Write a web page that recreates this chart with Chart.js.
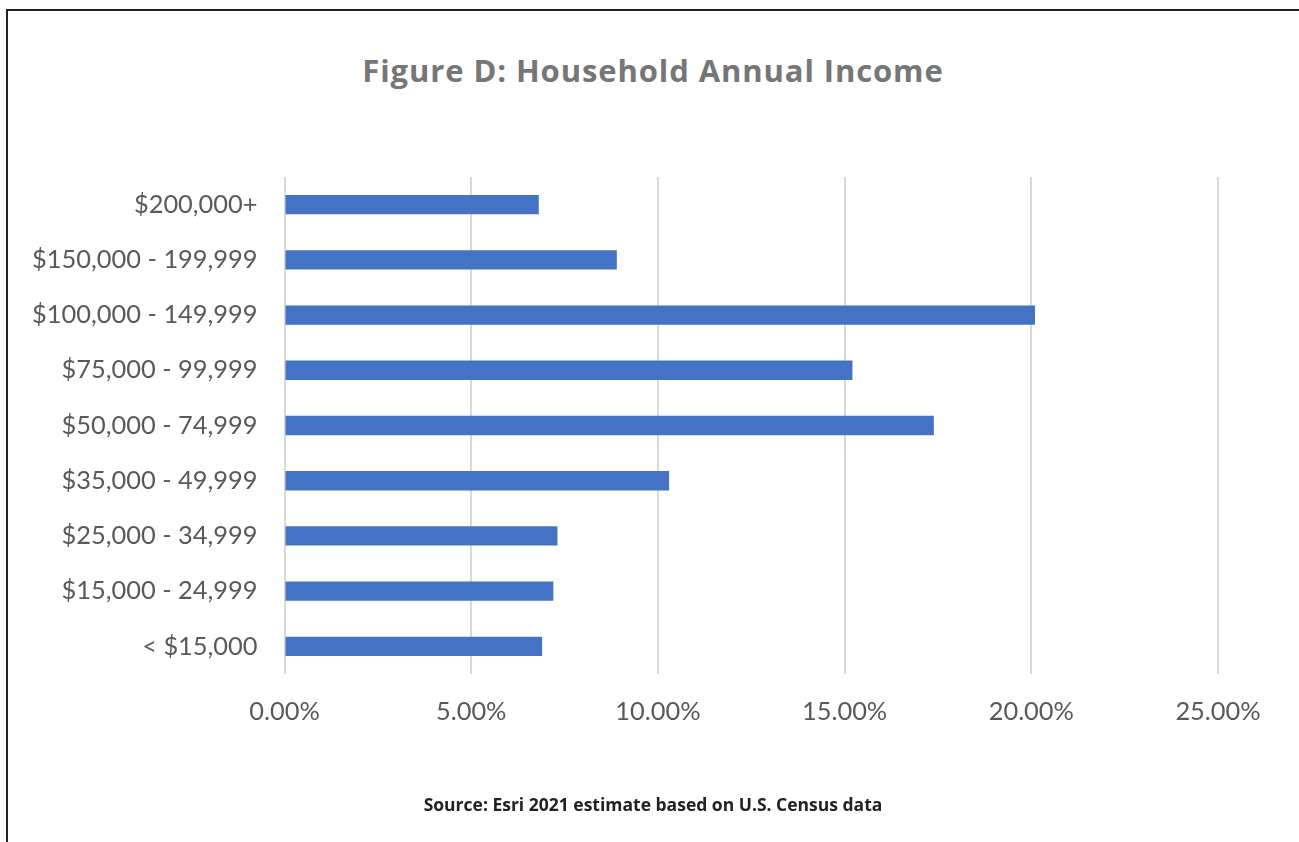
<!DOCTYPE html>
<html>
<head>
<meta charset="utf-8">
<script src="https://cdn.jsdelivr.net/npm/chart.js@4/dist/chart.umd.min.js"></script>
<style>
  html, body { margin: 0; padding: 0; background: #fff; }
  body { width: 1299px; height: 842px; position: relative; overflow: hidden; }
  .frame {
    position: absolute; left: 6px; top: 9px; width: 1400px; height: 900px;
    border-left: 2px solid #222; border-top: 2px solid #222;
    box-sizing: border-box;
  }
  .title {
    position: absolute; left: 0; width: 1306px; top: 50px; text-align: center;
    font-family: "Open Sans", sans-serif; font-weight: 700; font-size: 31px;
    letter-spacing: 0.9px;
    color: #767676; line-height: 40px;
  }
  .source {
    position: absolute; left: 0; width: 1306px; top: 792px; text-align: center;
    font-family: "Open Sans", sans-serif; font-weight: 700; font-size: 17.5px;
    color: #222; line-height: 24px;
  }
  #chart { position: absolute; left: 0; top: 0; }
</style>
</head>
<body>
<div class="frame"></div>
<div class="title">Figure D: Household Annual Income</div>
<canvas id="chart" width="1299" height="842"></canvas>
<div class="source">Source: Esri 2021 estimate based on U.S. Census data</div>
<script>
// Income brackets, listed top to bottom
const incomeBrackets = [
  "$200,000+",
  "$150,000 - 199,999",
  "$100,000 - 149,999",
  "$75,000 - 99,999",
  "$50,000 - 74,999",
  "$35,000 - 49,999",
  "$25,000 - 34,999",
  "$15,000 - 24,999",
  "< $15,000"
];

// Share of households in each bracket (percent)
const householdShare = [6.81, 8.90, 20.10, 15.21, 17.39, 10.30, 7.31, 7.20, 6.90];

// Horizontal axis ticks (percent)
const shareTicks = [0, 5, 10, 15, 20, 25];

const labelFont = { family: "Lato, 'Open Sans', sans-serif", size: 25.4 };

new Chart(document.getElementById("chart"), {
  type: "bar",
  data: {
    labels: incomeBrackets,
    datasets: [{
      data: householdShare,
      backgroundColor: "#4472C4",
      borderWidth: 0,
      barPercentage: 0.35,
      categoryPercentage: 1.0
    }]
  },
  options: {
    indexAxis: "y",
    responsive: false,
    animation: false,
    events: [],
    layout: { padding: { left: 0, top: 177, right: 81, bottom: 108 } },
    plugins: { legend: { display: false }, tooltip: { enabled: false } },
    scales: {
      x: {
        min: 0,
        max: 25,
        afterBuildTicks: (axis) => { axis.ticks = shareTicks.map(v => ({ value: v })); },
        afterFit: (axis) => { axis.height = 60; },
        grid: { color: "#d9d9d9", lineWidth: 2, drawTicks: false },
        border: { display: false },
        ticks: {
          padding: 23,
          color: "#595959",
          font: labelFont,
          callback: (v) => Number(v).toFixed(2) + "%"
        }
      },
      y: {
        afterFit: (axis) => { axis.width = 284.5; },
        grid: { display: false, drawTicks: false },
        border: { display: false },
        ticks: {
          padding: 27,
          color: "#595959",
          font: labelFont
        }
      }
    }
  }
});
</script>
</body>
</html>
